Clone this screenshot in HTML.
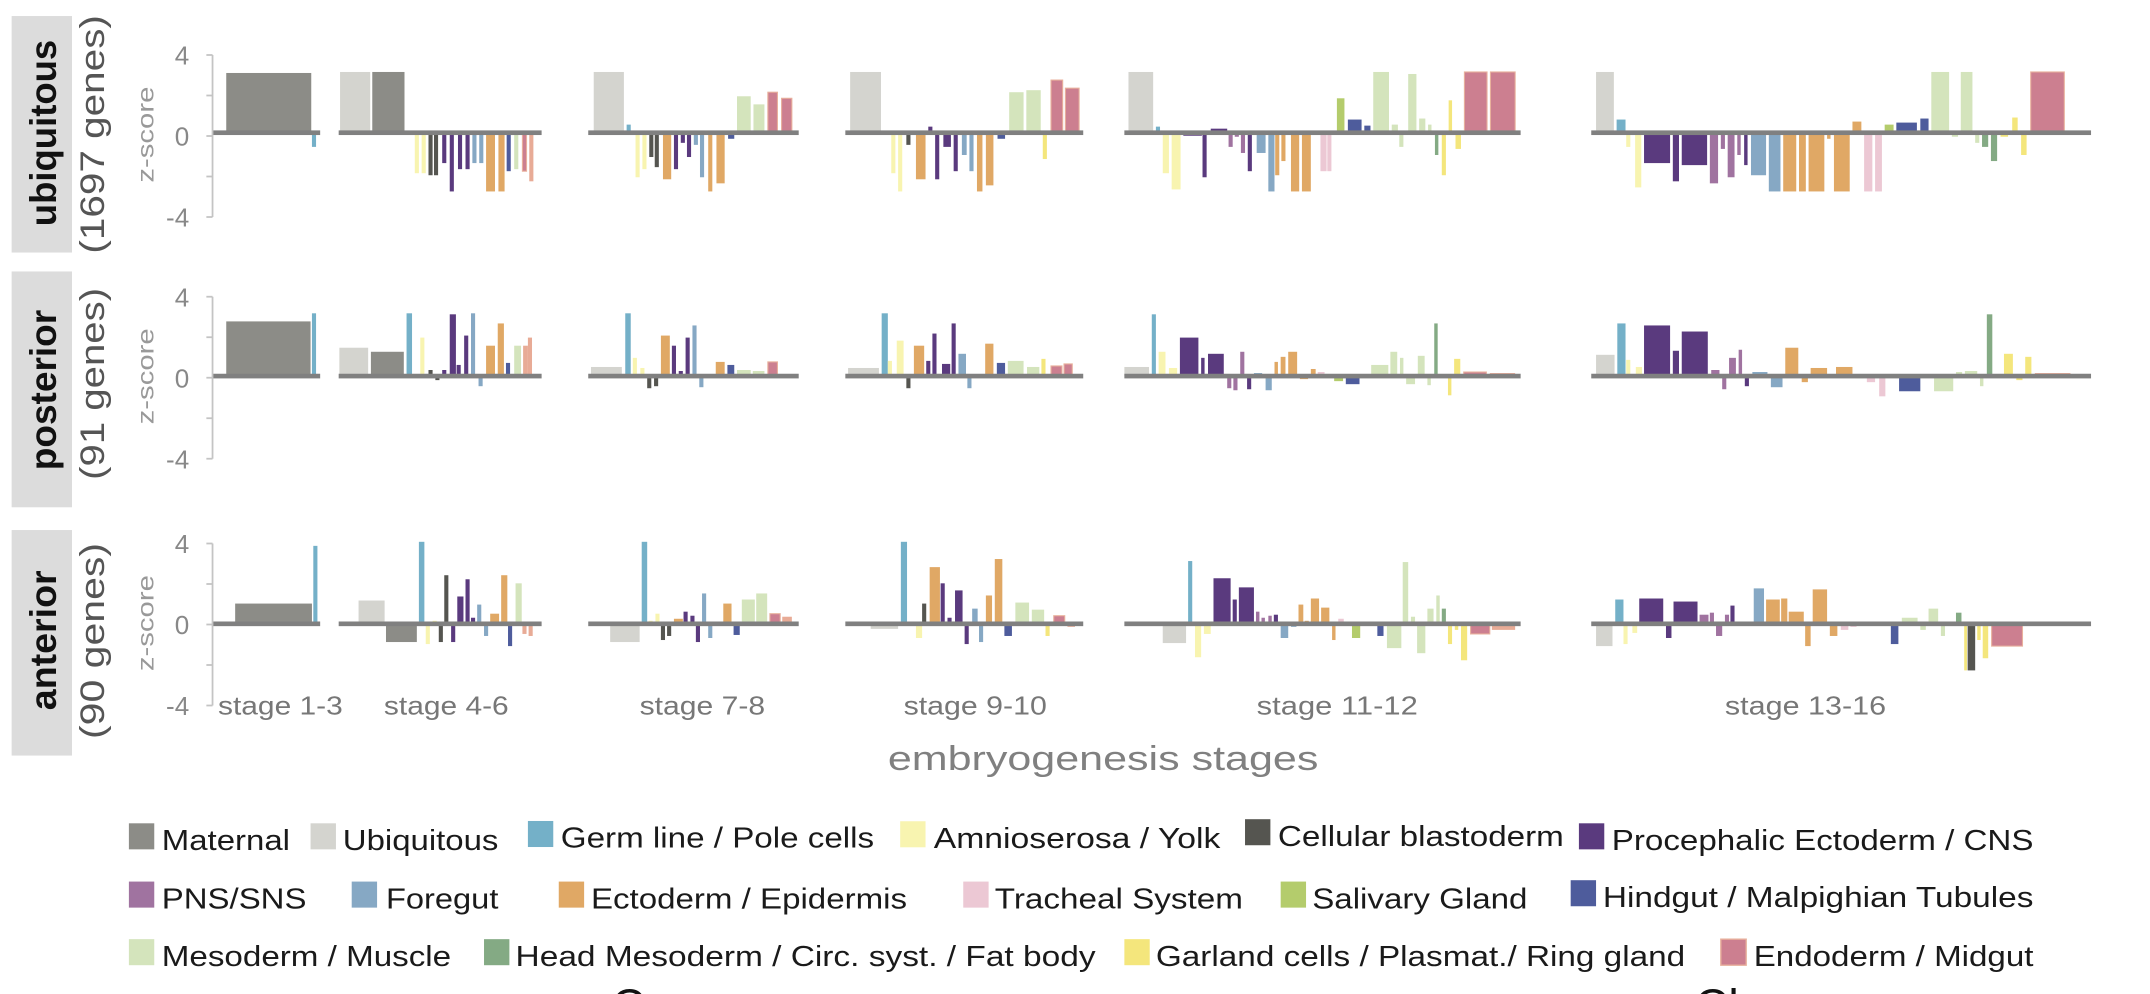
<!DOCTYPE html>
<html><head><meta charset="utf-8"><style>
html,body{margin:0;padding:0;background:#fff;}
svg{display:block;}
text{font-family:"Liberation Sans",sans-serif;}
</style></head><body>
<svg id="s" width="2150" height="994" viewBox="0 0 1568 725" preserveAspectRatio="none" xmlns="http://www.w3.org/2000/svg">
<rect width="1568" height="725" fill="#fff"/>
<g id="bars"></g>
<rect x="8.5" y="11.7" width="44" height="172.5" fill="#dcdcdc"/>
<rect x="8.5" y="198" width="44" height="172" fill="#dcdcdc"/>
<rect x="8.5" y="386.6" width="44" height="164.5" fill="#dcdcdc"/>
<text transform="translate(41,165) rotate(-90)" font-size="27" font-weight="bold" fill="#111" textLength="136" lengthAdjust="spacingAndGlyphs">ubiquitous</text>
<text transform="translate(76,185) rotate(-90)" font-size="25" fill="#555" textLength="174" lengthAdjust="spacingAndGlyphs">(1697 genes)</text>
<text transform="translate(41,343) rotate(-90)" font-size="27" font-weight="bold" fill="#111" textLength="117" lengthAdjust="spacingAndGlyphs">posterior</text>
<text transform="translate(76,350) rotate(-90)" font-size="25" fill="#555" textLength="140" lengthAdjust="spacingAndGlyphs">(91 genes)</text>
<text transform="translate(41,518) rotate(-90)" font-size="27" font-weight="bold" fill="#111" textLength="102" lengthAdjust="spacingAndGlyphs">anterior</text>
<text transform="translate(76,539) rotate(-90)" font-size="25" fill="#555" textLength="143" lengthAdjust="spacingAndGlyphs">(90 genes)</text>
<g id="axes"></g>
<g font-size="19" fill="#777">
<text x="159" y="521" textLength="91" lengthAdjust="spacingAndGlyphs">stage 1-3</text>
<text x="280" y="521" textLength="91" lengthAdjust="spacingAndGlyphs">stage 4-6</text>
<text x="466.5" y="521" textLength="91.5" lengthAdjust="spacingAndGlyphs">stage 7-8</text>
<text x="659" y="521" textLength="104.5" lengthAdjust="spacingAndGlyphs">stage 9-10</text>
<text x="916.5" y="521" textLength="117.5" lengthAdjust="spacingAndGlyphs">stage 11-12</text>
<text x="1258" y="521" textLength="117.5" lengthAdjust="spacingAndGlyphs">stage 13-16</text>
</g>
<text x="647.5" y="561.5" font-size="25" fill="#808080" textLength="314" lengthAdjust="spacingAndGlyphs">embryogenesis stages</text>
<g id="legend" font-size="21" fill="#1a1a1a"></g>
<text x="446" y="745" font-size="34" fill="#111">C</text>
<text x="1236" y="745" font-size="34" fill="#111">Cl</text>
</svg>
<script>
var C={M:"#8c8c87",U:"#d4d4cf",G:"#74b0c8",A:"#f8f4b0",C:"#555550",P:"#5a3a7e",N:"#a073a0",F:"#86a8c4",E:"#e0a865",T:"#ecc8d4",S:"#b4cc6c",H:"#4e5c9c",Y:"#d4e4bc",D:"#84aa84",L:"#f4e67c",R:"#cc7f90",r:"#e8ab96"};
var U=14.77;
var rows=[
{base:96.8,t0:99.2,d:"165,227,2.95,M;229,0,-0.7,G;248,270,3,U;271.5,295,3,M;298,0,-0.1,G;304,0,-2,A;309,0,-2,A;314,0,-2.1,C;318,0,-2.1,C;324,0,-1.5,P;329.5,0,-2.9,P;335.5,0,-1.8,P;341,0,-1.8,P;346,0,-1.5,F;351,0,-1.5,F;354.5,361,-2.9,E;363.5,368,-2.9,E;371,0,-1.9,H;376.5,0,-1.8,Y;382.5,0,-1.9,R;387.5,0,-2.4,r;"+
"433,455,3,U;458.5,0,0.4,G;465,0,-2.2,A;470,0,-1.8,A;475,0,-1.2,C;479,0,-1.7,C;483.5,489.5,-2.3,E;493,0,-1.8,P;498,0,-0.5,P;502.5,0,-1.2,P;507.5,0,-0.6,F;512,0,-2.2,F;518,0,-2.9,E;522.5,528.5,-2.5,E;531,535.5,-0.3,H;537.5,547.5,1.8,Y;549.5,557.5,1.4,Y;560,567,2.0,R;570,577.5,1.7,R;"+
"620,642.5,3,U;645,0,0.1,G;651.5,0,-2,A;656.5,0,-2.9,A;662.5,0,-0.6,C;668,675,-2.3,E;678.5,0,0.3,P;683.5,0,-2.3,P;688,693.5,-0.7,P;697,0,-1.9,P;701.5,705,-1.1,F;708.5,0,-1.9,F;712.5,716.5,-2.9,E;719,724.5,-2.6,E;727.5,733,-0.3,H;736,746.5,2.0,Y;748.5,759,2.1,Y;762,0,-1.3,L;766.5,775,2.6,R;777,787,2.2,R;"+
"823,841,3,U;843,846,0.3,G;848,852.5,-2.0,A;854.5,861,-2.8,A;863,876.5,-0.15,P;878.5,0,-2.2,P;883,895,0.2,P;897.5,0,-0.7,N;902,0,-0.2,N;906.5,0,-1,N;911.5,0,-1.9,P;916.5,923,-1.0,F;925,929.5,-2.9,F;931.5,0,-2.1,E;936,0,-1.4,E;941.5,947.5,-2.9,E;949.5,956,-2.9,E;963,967.5,-1.9,T;969.5,0,-1.9,T;975,980.5,1.7,S;983,993,0.65,H;995,999.5,0.35,H;1001.5,1013,3,Y;1015,1019.5,0.4,Y;1022,0,-0.7,Y;1027,1033,2.9,Y;1035,1039.5,0.7,Y;1041.5,1044,0.4,Y;1046.5,1049,-1.1,D;1051.5,1054.5,-2.1,L;1056.5,1059,1.6,L;1061.5,1065.5,-0.8,L;1068,1084.5,3,R;1087,1105,3,R;"+
"1164,1177,3,U;1179,1185.5,0.65,G;1187.5,0,-0.7,A;1192.5,1197,-2.7,A;1199,1218,-1.5,P;1220,1224.5,-2.4,P;1226.5,1245,-1.6,P;1247,1253,-2.5,N;1255,1258,-0.8,N;1260,1265,-2.2,N;1267,1269.5,-1.1,N;1272,1274.5,-1.6,P;1277,1288,-2.1,F;1290,1298.5,-2.9,F;1300.5,1310,-2.9,E;1312,1317,-2.9,E;1319,1330.5,-2.9,E;1332.5,1335,-0.3,E;1337.5,1349,-2.9,E;1351,1357.5,0.55,E;1359.5,1365.5,-2.9,T;1367.5,1372.5,-2.9,T;1374.5,1381,0.4,S;1383,1398,0.5,H;1400.5,1406.5,0.7,H;1408.5,1421.5,3,Y;1423.5,1428,-0.2,Y;1430,1438.5,3,Y;1440.5,1443.5,-0.5,Y;1445.5,1450,-0.7,D;1452,1456.5,-1.4,D;1459,1464.5,-0.2,L;1467.5,1471.5,0.75,L;1474,1478,-1.1,L;1481,1505.5,3,R"},
{base:274.3,t0:275.5,d:"165,226.5,2.7,M;229,0,3.1,G;247.5,268.5,1.4,U;270.5,294.5,1.2,M;296.5,300.5,3.1,G;308,0,1.9,A;314,0,0.3,C;319,0,-0.2,C;324,0,0.3,P;328,332.5,3.05,P;334.5,0,0.55,P;340,0,2.0,P;345,0,3.1,F;350.5,0,-0.5,F;354.5,361,1.5,E;363,367.5,2.6,E;370.5,0,0.65,H;375,380,1.5,Y;381.5,385,1.5,r;386.5,0,1.9,r;"+
"431,453.5,0.45,U;456,460,3.1,G;463,0,0.9,A;468.5,0,0.4,A;473.5,0,-0.6,C;478.5,0,-0.5,C;482,488.5,2.0,E;491.5,0,1.5,P;496.5,0,0.25,P;501.5,0,1.9,P;506.5,0,2.5,F;511.5,0,-0.55,F;522,528.5,0.7,E;530.5,535.5,0.55,H;537.5,547.5,0.3,Y;549,557.5,0.25,Y;560,567,0.7,R;"+
"618.5,641,0.4,U;643,647.5,3.1,G;649,0,0.75,A;654,659,1.75,A;662.5,0,-0.6,C;666.5,674,1.5,E;677,0,0.75,P;681.5,0,2.1,P;687,693,0.6,P;695.5,0,2.6,P;699,704.5,1.1,F;707,0,-0.6,F;711,716,0.1,E;718.5,724.5,1.6,E;727,733,0.65,H;735,746.5,0.75,Y;749,758,0.45,Y;761,0,0.85,L;766.5,774.5,0.5,R;776,782,0.6,R;"+
"820,838,0.45,U;840,843,3.05,G;845,850,1.2,A;852.5,858.5,0.4,A;860.5,874,1.9,P;876,878.5,0.9,P;881,892.5,1.1,P;895,898,-0.6,N;899.5,902.5,-0.7,N;904.5,907.5,1.2,N;909.5,912.5,-0.65,P;914.5,920.5,0.15,F;923,927.5,-0.7,F;929.5,932,0.7,E;934,937.5,0.95,E;939.5,946,1.2,E;948,954,-0.15,E;956,959.5,0.35,E;961,966,0.2,T;973,979.5,-0.25,S;981.5,991.5,-0.4,H;1000,1012.5,0.55,Y;1014,1019,1.2,Y;1021,1023.5,0.9,Y;1025.5,1032,-0.4,Y;1034,1039,1.0,Y;1041,1043.5,-0.45,Y;1046,1048.5,2.6,D;1056,1058.5,-0.95,L;1060.5,1065,0.85,L;1067.5,1084,0.2,R;1086.5,1105,0.15,r;"+
"1164,1177.5,1.05,U;1179.5,1185.5,2.6,G;1187.5,0,0.8,A;1193,1197.5,0.45,A;1199,1218,2.5,P;1220,1224.5,1.25,P;1226.5,1245.5,2.2,P;1248,1254,0.3,N;1256,1259,-0.65,N;1261,1266,0.9,N;1268,1270.5,1.3,N;1272.5,1275.5,-0.5,P;1278,1289,0.2,F;1291.5,1300,-0.55,F;1302,1311.5,1.4,E;1314,1318.5,-0.3,E;1320.5,1332.5,0.4,E;1339,1351,0.45,E;1353,1359,-0.1,E;1361.5,1367.5,-0.3,T;1370.5,1375,-1.0,T;1385,1400.5,-0.75,H;1410.5,1424.5,-0.75,Y;1426.5,1431,0.2,Y;1433,1442,0.25,Y;1444,1446.5,-0.5,Y;1449,1453,3.05,D;1461.5,1468,1.1,L;1470.5,1475,-0.2,L;1477,1481.5,0.95,L;1484,1510,0.15,r"},
{base:455,t0:455.5,d:"171.5,227.5,1.0,M;228.5,231.5,3.85,G;261.5,280.5,1.15,U;281.5,304,-0.9,M;305.5,309.5,4.05,G;312,0,-1.0,A;317,0,0.15,A;321.5,0,-0.9,C;325.5,0,2.4,C;330.5,0,-0.9,P;333.5,338,1.35,P;341,0,2.2,P;345,0,0.3,P;349.5,0,0.95,F;354.5,0,-0.6,F;357.5,364,0.5,E;365.5,370,2.4,E;372,0,-1.1,H;376,380.5,2.0,Y;382.5,0,-0.5,r;387,0,-0.6,r;"+
"445,466.5,-0.9,U;468,472,4.05,G;474.5,0,0.15,A;479.5,0,0.5,A;483.5,0,-0.8,C;488,0,-0.6,C;491.5,498,0.25,E;500,0,0.6,P;505,0,0.4,P;509,0,-0.9,P;513.5,0,1.5,F;518,0,-0.7,F;527.5,533.5,1.0,E;535,539.5,-0.55,H;541,550.5,1.2,Y;551.5,559.5,1.5,Y;561.5,569,0.5,R;570.5,577.5,0.35,r;"+
"635,655,-0.25,U;657,661.5,4.05,G;668,672.5,-0.7,A;674,0,1.0,C;678,685.5,2.8,E;687.5,0,2.0,P;692.5,0,0.3,P;696.5,702,1.65,P;705,0,-1.0,P;709,713,0.75,F;715.5,0,-0.9,F;719,723.5,1.4,E;725.5,731,3.2,E;732.5,738,-0.6,H;740.5,750.5,1.05,Y;752.5,761.5,0.7,Y;764,0,-0.6,L;768.5,776.5,0.4,R;778.5,784,-0.15,r;"+
"848,865,-0.95,U;866.5,869.5,3.1,G;871.5,876,-1.65,A;878,883,-0.5,A;885,897.5,2.25,P;899,902,1.2,P;903.5,914.5,1.8,P;916,918.5,0.6,N;920,922.5,0.3,N;925,927.5,0.4,N;929,932,0.45,P;934,939.5,-0.7,F;941.5,945.5,-0.15,F;947,950.5,0.95,E;951.5,954.5,0.15,E;956,962,1.25,E;963.5,969.5,0.8,E;971.5,974,-0.8,E;976,980,0.25,T;986,992,-0.7,S;1004.5,1009,-0.6,H;1011.5,1022,-1.2,Y;1023,1027,3.05,Y;1029,1032,0.35,Y;1033.5,1039.5,-1.45,Y;1041,1045.5,0.75,Y;1047.5,1050,1.4,Y;1051.5,1054.5,0.75,D;1056,1059,-1.0,L;1061,1063.5,-0.3,L;1065.5,1070,-1.8,L;1072.5,1086.5,-0.5,R;1088,1105,-0.3,r;"+
"1164,1176,-1.1,U;1178,1184,1.2,G;1185.5,0,-1.0,A;1190.5,1194,-0.45,A;1195.5,1213,1.25,P;1215,1219,-0.7,P;1220.5,1238,1.1,P;1239.5,1246,0.45,N;1247,1250,0.55,N;1251.5,1256,-0.6,N;1258,1261,0.45,N;1262,1265,0.9,P;1279,1286.5,1.75,F;1288,1298,1.2,E;1299,1303.5,1.25,E;1304.5,1315.5,0.6,E;1316.5,1320.5,-1.1,E;1322,1332.5,1.7,E;1334.5,1340,-0.6,E;1342.5,1348,-0.3,T;1349.5,1354,-0.15,T;1379,1384.5,-1.0,H;1387,1398.5,0.3,Y;1400.5,1404.5,-0.3,Y;1406.5,1413.5,0.75,Y;1415.5,1418.5,-0.6,Y;1426.5,1430.5,0.55,D;1432.5,1434.5,-2.3,L;1435,1440.5,-2.3,C;1442,1444.5,-0.8,L;1446,1450,-1.7,L;1452.5,1475,-1.1,R"}
];
var panels=[[155,233.5],[247,395],[429,582.5],[616.5,790],[820,1109],[1160.5,1525]];
var ns="http://www.w3.org/2000/svg";
function el(p,t,a,tx){var e=document.createElementNS(ns,t);for(var k in a)e.setAttribute(k,a[k]);if(tx)e.textContent=tx;p.appendChild(e);return e;}
var g=document.getElementById("bars"),ax=document.getElementById("axes");
rows.forEach(function(r){
 r.d.split(";").forEach(function(s){if(!s)return;var p=s.split(",");var x1=+p[0],x2=+p[1],v=+p[2],c=p[3];
  if(x2===0){x1=x1-1.5;x2=x1+3;}
  var h=Math.abs(v)*U,y=v>0?r.base-h:r.base;
  var a={x:x1,y:y,width:Math.max(x2-x1,2),height:h,fill:C[c]};
  if(c==="R"){a.stroke="#e8b09c";a["stroke-width"]=0.8;}
  el(g,"rect",a);
 });
 panels.forEach(function(p){el(g,"rect",{x:p[0],y:r.base-1.7,width:p[1]-p[0],height:3.4,fill:"#808080"});});
 var t0=r.t0;
 el(ax,"line",{x1:155,x2:155,y1:t0-4*U,y2:t0+4*U,stroke:"#c4c4c4","stroke-width":1.3});
 [-4,-2,0,2,4].forEach(function(k){var y=t0-k*U;el(ax,"line",{x1:150.5,x2:155,y1:y,y2:y,stroke:"#c4c4c4","stroke-width":1.3});});
 [[4,"4"],[0,"0"],[-4,"-4"]].forEach(function(q){el(ax,"text",{x:138,y:t0-q[0]*U+7,"font-size":19,fill:"#888","text-anchor":"end"},q[1]);});
 el(ax,"text",{transform:"translate(112,"+(t0+38-4)+") rotate(-90)","font-size":17,fill:"#999",textLength:70,lengthAdjust:"spacingAndGlyphs"},"z-score");
});
var L=[
[94,600.5,"M",118,211.5,"Maternal"],[226.5,600.5,"U",250,363.5,"Ubiquitous"],[385,598.8,"G",409,637.5,"Germ line / Pole cells"],[656.5,599,"A",681,890,"Amnioserosa / Yolk"],[908,597.5,"C",932,1140.5,"Cellular blastoderm"],[1151.5,600.5,"P",1175.5,1483,"Procephalic Ectoderm / CNS"],
[94,643,"N",118,223.5,"PNS/SNS"],[256.5,643,"F",281.5,363.5,"Foregut"],[407.5,643,"E",431,661.5,"Ectoderm / Epidermis"],[702.5,643,"T",725.5,906.5,"Tracheal System"],[934,643,"S",957,1114,"Salivary Gland"],[1145.5,642,"H",1169,1483,"Hindgut / Malpighian Tubules"],
[94,685,"Y",118,329,"Mesoderm / Muscle"],[353,685,"D",376,799,"Head Mesoderm / Circ. syst. / Fat body"],[820,685,"L",843,1229,"Garland cells / Plasmat./ Ring gland"],[1255,685,"R",1279,1483,"Endoderm / Midgut"]];
var lg=document.getElementById("legend");
L.forEach(function(q){var a={x:q[0],y:q[1],width:18.5,height:19,fill:C[q[2]]};if(q[2]==="R"){a.stroke="#e8b09c";a["stroke-width"]=1;}
 el(lg,"rect",a);
 el(lg,"text",{x:q[3],y:q[1]+19.5,textLength:q[4]-q[3],lengthAdjust:"spacingAndGlyphs"},q[5]);});
</script>
</body></html>
